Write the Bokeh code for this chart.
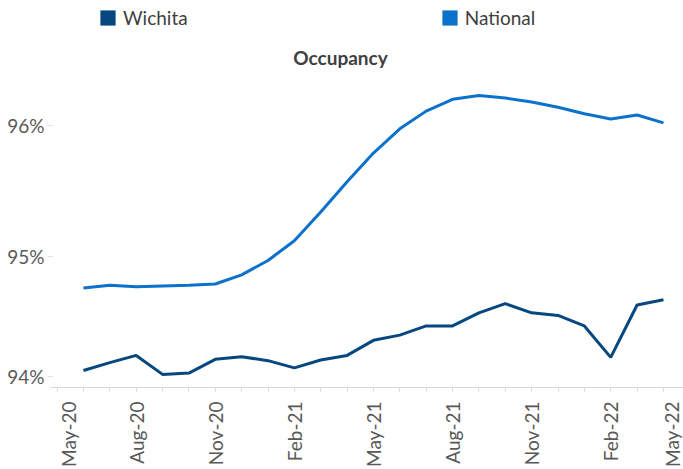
from bokeh.plotting import figure
from bokeh.models import (ColumnDataSource, FixedTicker, Legend, LegendItem, Range1d, Label)
from bokeh.embed import file_html
from bokeh.resources import INLINE

# ---- data -------------------------------------------------------------
tick_months = ["May-20", "Aug-20", "Nov-20", "Feb-21", "May-21", "Aug-21", "Nov-21", "Feb-22", "May-22"]
months = ["Jun-20", "Jul-20", "Aug-20", "Sep-20", "Oct-20", "Nov-20", "Dec-20",
          "Jan-21", "Feb-21", "Mar-21", "Apr-21", "May-21", "Jun-21", "Jul-21",
          "Aug-21", "Sep-21", "Oct-21", "Nov-21", "Dec-21", "Jan-22", "Feb-22",
          "Mar-22", "Apr-22"]
wichita = [94.13, 94.19, 94.245, 94.10, 94.11, 94.215, 94.235, 94.205, 94.15,
           94.21, 94.245, 94.36, 94.40, 94.47, 94.47, 94.57, 94.64, 94.57,
           94.55, 94.47, 94.23, 94.63, 94.67]
national = [94.76, 94.78, 94.77, 94.775, 94.78, 94.79, 94.86, 94.97, 95.12,
            95.34, 95.57, 95.79, 95.975, 96.11, 96.20, 96.23, 96.21, 96.18,
            96.14, 96.09, 96.05, 96.08, 96.02]
y_ticks = [94, 95, 96]
y_labels = ["94%", "95%", "96%"]
title_text = "Occupancy"

# month index: May-20 = 0
x_idx = list(range(1, len(months) + 1))
tick_idx = [0, 3, 6, 9, 12, 15, 18, 21, 24]

src = ColumnDataSource(dict(x=x_idx, month=months, wichita=wichita, national=national))

WICH = "#07477F"
NATL = "#0B72CC"
FONT = "Lato"
NAN = float("nan")

# frame covers the whole upper area so that legend and title sit inside it
p = figure(width=683, height=469, output_backend="svg", toolbar_location=None,
           x_range=Range1d(-0.25, 23.76), y_range=Range1d(94, 94 + 390 / 132),
           min_border_left=50, min_border_right=0, min_border_top=0,
           min_border_bottom=79, background_fill_color="white",
           border_fill_color="white", outline_line_color=None)

r_w = p.line("x", "wichita", source=src, line_color=WICH, line_width=3)
r_n = p.line("x", "national", source=src, line_color=NATL, line_width=3)

# legend swatches (square patches, nothing drawn in the plot itself)
sw_src = ColumnDataSource(dict(l=[NAN], r=[NAN], b=[NAN], t=[NAN]))
q_w = p.quad(left="l", right="r", bottom="b", top="t", source=sw_src,
             fill_color=WICH, line_color=None)
q_n = p.quad(left="l", right="r", bottom="b", top="t", source=sw_src,
             fill_color=NATL, line_color=None)

p.grid.visible = False

# x axis: end labels nudged inside the frame, as in the reference
x_tick_pos = [0.43] + tick_idx[1:-1] + [23.53]
xax = p.xaxis[0]
xax.ticker = FixedTicker(ticks=x_tick_pos, minor_ticks=list(range(0, 24)))
xax.major_label_overrides = {float(t): lab for t, lab in zip(x_tick_pos, tick_months)}
xax.major_label_orientation = 1.5708
xax.major_label_text_font = FONT
xax.major_label_text_font_size = "19px"
xax.major_label_text_color = "#595959"
xax.major_label_standoff = 10
xax.axis_line_color = "#D9D9D9"
xax.axis_line_width = 1
xax.major_tick_line_color = None
xax.major_tick_out = 0
xax.major_tick_in = 0
xax.minor_tick_line_color = "#D9D9D9"
xax.minor_tick_out = 4
xax.minor_tick_in = 0

# y axis
yax = p.yaxis[0]
y_tick_pos = [94.083, 95, 96]
yax.ticker = FixedTicker(ticks=y_tick_pos, minor_ticks=[])
yax.major_label_overrides = {float(t): lab for t, lab in zip(y_tick_pos, y_labels)}
yax.major_label_text_font = FONT
yax.major_label_text_font_size = "19px"
yax.major_label_text_color = "#595959"
yax.major_label_standoff = 3
yax.axis_line_color = None
yax.major_tick_line_color = "#E3E3E3"
yax.major_tick_out = 3
yax.major_tick_in = 3

# title
p.add_layout(Label(x=10.75, y=96.523, text=title_text, text_align="center",
                   text_baseline="middle", text_font=FONT, text_font_size="19px",
                   text_font_style="bold", text_color="#404040"))

legend = Legend(items=[LegendItem(label="Wichita", renderers=[q_w], index=0),
                       LegendItem(label="National", renderers=[q_n], index=0)],
                orientation="horizontal", location=(48, 358),
                glyph_width=19, glyph_height=19, label_standoff=6,
                spacing=252, padding=0, margin=0,
                label_text_font=FONT, label_text_font_size="19px",
                label_text_color="#404040",
                background_fill_alpha=0, border_line_color=None)
p.add_layout(legend, "center")

open("out.html", "w").write(file_html(p, INLINE))
